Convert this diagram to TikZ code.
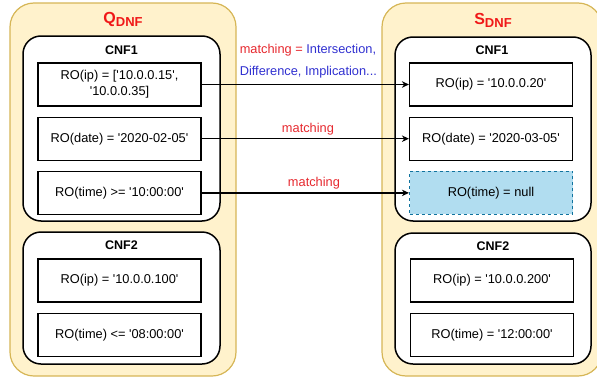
\documentclass[tikz,border=0pt]{standalone}
\usepackage{fontspec}
\setmainfont{Liberation Sans}
\usetikzlibrary{arrows.meta, positioning}
\definecolor{dnffill}{HTML}{FFF2CC}
\definecolor{dnfline}{HTML}{D6B656}
\definecolor{nullfill}{HTML}{B1DDF0}
\definecolor{nullline}{HTML}{10739E}
\definecolor{titlered}{HTML}{F01818}
\definecolor{matchred}{HTML}{E6282E}
\definecolor{opblue}{HTML}{3030D0}
\newcommand{\sq}{\textquotesingle}
\tikzset{
    dnf/.style={
        rectangle, draw=dnfline, line width=1.2pt, rounded corners=24pt,
        fill=dnffill
    },
    cnf/.style={
        rectangle, draw=black, line width=1.5pt, rounded corners=18pt,
        fill=white
    },
    cnftitle/.style={font=\fontsize{12.5}{15}\selectfont\bfseries, inner sep=0pt},
    dnftitle/.style={text=titlered, font=\bfseries, inner sep=0pt},
    ro/.style={
        rectangle, draw=black, line width=1.2pt,
        minimum width=163pt, minimum height=43pt,
        fill=white, align=center, font=\fontsize{12.8}{16}\selectfont
    },
    nullro/.style={ro, draw=nullline, fill=nullfill, dashed},
    match/.style={draw=black, line width=1.2pt, -{Stealth[length=7pt, width=6.5pt]}},
    matchlabel/.style={text=matchred, inner sep=0pt, font=\fontsize{12.8}{22}\selectfont}
}

\begin{document}
\begin{tikzpicture}[x=1pt, y=-1pt, node distance=10pt]
\useasboundingbox (0,0) rectangle (597,380);

% Query DNF (left)
\node[dnf, minimum width=226pt, minimum height=373pt] (qdnf) at (123,189.5) {};
\node[dnftitle] (qtitle) at (123,19) {{\fontsize{16}{18}\selectfont Q}{\fontsize{13}{15}\selectfont\raisebox{-3pt}{DNF}}};

\node[cnf, minimum width=197pt, minimum height=185pt] (qcnf1) at (121.5,128.5) {};
\node[cnftitle] (qcnf1t) at (121.5,50) {CNF1};
\node[ro] (qip) at (119.5,84.5) {RO(ip) = [\sq10.0.0.15\sq,\\\sq10.0.0.35]};
\node[ro, below=of qip] (qdate) {RO(date) = \sq2020-02-05\sq};
\node[ro, below=of qdate] (qtime) {RO(time) >= \sq10:00:00\sq};

\node[cnf, minimum width=197pt, minimum height=132pt] (qcnf2) at (121.5,298) {};
\node[cnftitle] (qcnf2t) at (121.5,245.5) {CNF2};
\node[ro] (qip2) at (119.5,280.5) {RO(ip) = \sq10.0.0.100\sq};
\node[ro, below=of qip2] (qtime2) {RO(time) <= \sq08:00:00\sq};

% Stored DNF (right)
\node[dnf, minimum width=220pt, minimum height=373pt] (sdnf) at (492,189.5) {};
\node[dnftitle] (stitle) at (493,20) {{\fontsize{16}{18}\selectfont S}{\fontsize{13}{15}\selectfont\raisebox{-3pt}{DNF}}};

\node[cnf, minimum width=196pt, minimum height=184pt] (scnf1) at (493,129) {};
\node[cnftitle] (scnf1t) at (492,50) {CNF1};
\node[ro] (sip) at (491,84.5) {RO(ip) = \sq10.0.0.20\sq};
\node[ro, below=of sip] (sdate) {RO(date) = \sq2020-03-05\sq};
\node[nullro, below=of sdate] (snull) {RO(time) = null};

\node[cnf, minimum width=196pt, minimum height=131pt] (scnf2) at (493,298.5) {};
\node[cnftitle] (scnf2t) at (493,246) {CNF2};
\node[ro] (sip2) at (492,280.5) {RO(ip) = \sq10.0.0.200\sq};
\node[ro, below=of sip2] (stime2) {RO(time) = \sq12:00:00\sq};

% Matching arrows
\draw[match] (qip) -- node[matchlabel, above=5.5pt, pos=.515, align=left] (ops) {matching = \textcolor{opblue}{Intersection,}\\\textcolor{opblue}{Difference, Implication...}} (sip);
\draw[match] (qdate) -- node[matchlabel, above=3pt, pos=.513] (m2) {matching} (sdate);
\draw[match] (qtime) -- node[matchlabel, above=3pt, pos=.542] (m3) {matching} (snull);

\end{tikzpicture}
\end{document}
